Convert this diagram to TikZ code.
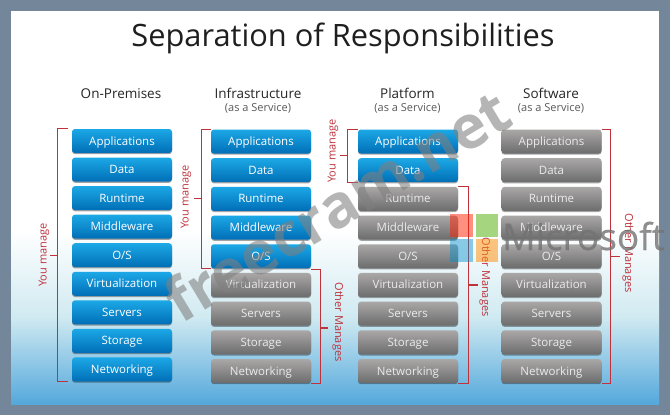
\documentclass[tikz,border=0pt]{standalone}
\usepackage{fontspec}
\setmainfont{Open Sans}
\usetikzlibrary{calc, shadows}
\definecolor{framecolor}{RGB}{116,135,154}
\definecolor{bracketcolor}{RGB}{190,50,60}
\definecolor{bluetop}{RGB}{28,168,230}
\definecolor{bluebottom}{RGB}{0,110,182}
\definecolor{greytop}{RGB}{170,167,167}
\definecolor{greybottom}{RGB}{108,108,108}
\definecolor{pagemiddle}{RGB}{208,234,241}
\definecolor{pagebottom}{RGB}{84,168,220}
\tikzset{
  layerbox/.style={minimum width=100pt, minimum height=24pt, inner sep=0pt, rounded corners=3pt,
    text height=10pt, text depth=2pt,
    text=white, font=\fontsize{11.5}{13}\selectfont,
    drop shadow={shadow xshift=0pt, shadow yshift=-1.2pt, opacity=.35, fill=black}},
  bluebox/.style={layerbox, top color=bluetop, bottom color=bluebottom},
  greybox/.style={layerbox, top color=greytop, bottom color=greybottom, text=white!92!black},
  headtext/.style={text=black!85, font=\fontsize{13.5}{15}\selectfont, inner sep=0pt},
  subtext/.style={text=black!65, font=\fontsize{11}{13}\selectfont, inner sep=0pt},
  bracketline/.style={draw=bracketcolor, line width=1.1pt},
  sidetext/.style={text=bracketcolor, font=\fontsize{11}{13}\selectfont, inner sep=0pt}
}
\begin{document}
\begin{tikzpicture}[x=1pt, y=-1pt]
    \useasboundingbox (0,0) rectangle (670,415);
    % frame and page
    \fill[framecolor] (0,0) rectangle (670,415);
    \fill[white] (11,11) rectangle (659,231);
    \shade[top color=white, bottom color=pagebottom, middle color=pagemiddle] (11,230) rectangle (659,404);
    \node[text=black!88, font=\fontsize{30.8}{34}\selectfont, inner sep=0pt] (title) at (343,38.5) {Separation of Responsibilities};
    % column heads
    \node[headtext] (headon) at (121,93.5) {On-Premises};
    \node[headtext] (headin) at (258,93.5) {Infrastructure};
    \node[subtext] (subin) at (258,108.5) {(as a Service)};
    \node[headtext] (headpa) at (407.5,93.5) {Platform};
    \node[subtext] (subpa) at (407.5,108.5) {(as a Service)};
    \node[headtext] (headso) at (551,93.5) {Software};
    \node[subtext] (subso) at (551,108.5) {(as a Service)};
    % the four stacks
    \foreach \cname/\cx/\cy/\cstep/\nblue in {on/122/141/28.56/9, in/261/141.5/28.69/5, pa/408/141.5/28.69/2, so/551.5/141.5/28.69/0} {
        \foreach \lbl [count=\i] in {Applications, Data, Runtime, Middleware, O/S, Virtualization, Servers, Storage, Networking} {
            \ifnum\i>\nblue \def\boxstyle{greybox}\else \def\boxstyle{bluebox}\fi
            \node[\boxstyle] (\cname\i) at (\cx,{\cy+(\i-1)*\cstep}) {\lbl};
        }
    }
    % brackets
    \draw[bracketline] ($(on1.north west)+(-4,0)$) -- ++(-10,0) |- ($(on9.south west)+(-4,0)$);
    \draw[bracketline] ($(on1.north west)!.5!(on9.south west)+(-14,0)$) -- ++(-8,0);
    \node[sidetext, rotate=90] (manageon) at (44,255) {You manage};
    \draw[bracketline] (in1.north west) -- ++(-9,0) |- (in5.south west);
    \draw[bracketline] ($(in1.north west)!.5!(in5.south west)+(-9,0)$) -- ++(-8,0);
    \node[sidetext, rotate=90] (managein) at (186,197) {You manage};
    \draw[bracketline] ($(in6.north east)+(0,-3)$) -- ++(9,0) |- (in9.south east);
    \draw[bracketline] ($(in6.north east)!.5!(in9.south east)+(9,0)$) -- ++(8,0);
    \node[sidetext, rotate=-90] (otherin) at (338,322) {Other Manages};
    \draw[bracketline] (pa1.north west) -- ++(-10,0) |- (pa2.south west);
    \draw[bracketline] ($(pa1.north west)!.5!(pa2.south west)+(-10,0)$) -- ++(-8,0);
    \node[sidetext, rotate=90] (managepa) at (333,151) {You manage};
    \draw[bracketline] (pa3.north east) -- ++(10,0) |- (pa9.south east);
    \draw[bracketline] ($(pa3.north east)!.5!(pa9.south east)+(10,0)$) -- ++(10,0);
    \node[sidetext, rotate=-90] (otherpa) at (485,277) {Other Manages};
    \draw[bracketline] (so1.north east) -- ++(9,0) |- (so9.south east);
    \draw[bracketline] ($(so1.north east)!.5!(so9.south east)+(9,0)$) -- ++(9,0);
    \node[sidetext, rotate=-90] (otherso) at (628,253) {Other Manages};
    % logo and watermark on top
    \fill[red!75!orange, opacity=.5] (450,214) rectangle (473,237);
    \fill[green!55!black!70!yellow, opacity=.5] (476,214) rectangle (498,237);
    \fill[blue!30!cyan!80!black, opacity=.45] (450,239) rectangle (473,262);
    \fill[orange!90!yellow, opacity=.5] (476,239) rectangle (498,262);
    \node[anchor=base west, text=black!55, opacity=.8, font=\fontsize{37}{40}\selectfont\addfontfeature{FakeBold=0.5}, inner sep=0pt] (brand) at (502,250) {Microsoft};
    \node[text=black!50, opacity=.58, font=\fontsize{60}{64}\selectfont\bfseries, inner sep=0pt, rotate=31] (stamp) at (337,205) {freecram.net};
\end{tikzpicture}
\end{document}
